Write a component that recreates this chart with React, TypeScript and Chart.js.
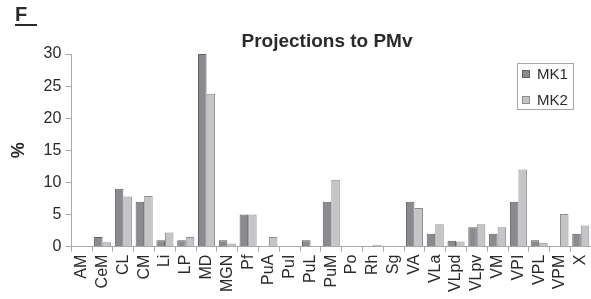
import React, { useEffect, useRef } from "react";
import { Chart, registerables } from "chart.js";

Chart.register(...registerables);

const categories = ["AM", "CeM", "CL", "CM", "Li", "LP", "MD", "MGN", "Pf", "PuA", "PuI", "PuL", "PuM", "Po", "Rh", "Sg", "VA", "VLa", "VLpd", "VLpv", "VM", "VPI", "VPL", "VPM", "X"];
const mk1 = [0, 1.5, 9.0, 7.0, 1.0, 1.0, 30.0, 1.0, 5.0, 0, 0, 1.0, 7.0, 0, 0, 0, 7.0, 2.0, 0.9, 3.0, 2.0, 7.0, 1.0, 0, 2.0];
const mk2 = [0, 0.7, 7.8, 7.9, 2.2, 1.5, 23.8, 0.5, 5.0, 1.5, 0, 0, 10.4, 0, 0.3, 0, 6.0, 3.5, 0.8, 3.5, 3.0, 12.0, 0.6, 5.1, 3.3];
const yTicks = [0, 5, 10, 15, 20, 25, 30];
const seriesNames = ["MK1", "MK2"];
const panelLetter = "F";
const titleText = "Projections to PMv";

const MK1_FILL = "#8b8b8f";
const MK1_BORDER = "#5f5f63";
const MK2_FILL = "#c5c5c8";
const MK2_BORDER = "#8d8d90";
const AXIS = "#a8a8a8";
const TEXT = "#2a2a2a";
const FONT = "Arial, 'Liberation Sans', sans-serif";
const CANVAS_W = 603;

const decorPlugin = {
  id: "decor",
  afterDraw(chart: any) {
    const ctx = chart.ctx;
    ctx.save();
    ctx.fillStyle = TEXT;
    ctx.font = `bold 20px ${FONT}`;
    ctx.textAlign = "left";
    ctx.textBaseline = "alphabetic";
    ctx.fillText(panelLetter, 15, 21);
    ctx.fillRect(15, 24, 22, 2);
    ctx.font = `bold 19px ${FONT}`;
    ctx.textAlign = "center";
    ctx.textBaseline = "middle";
    ctx.fillText(titleText, 327, 42);
    const bx = 517, by = 63, bw = 56, bh = 46;
    ctx.strokeStyle = "#a8a8a8";
    ctx.lineWidth = 1;
    ctx.strokeRect(bx + 0.5, by + 0.5, bw, bh);
    const fills = [MK1_FILL, MK2_FILL];
    const borders = [MK1_BORDER, MK2_BORDER];
    seriesNames.forEach((name, i) => {
      const cy = by + 11 + i * 26;
      ctx.fillStyle = fills[i];
      ctx.fillRect(bx + 5, cy - 4, 8, 8);
      ctx.strokeStyle = borders[i];
      ctx.strokeRect(bx + 5.5, cy - 3.5, 7, 7);
      ctx.fillStyle = TEXT;
      ctx.font = `15px ${FONT}`;
      ctx.textAlign = "left";
      ctx.textBaseline = "middle";
      ctx.fillText(name, bx + 20, cy + 1);
    });
    ctx.restore();
  },
};

export default function App() {
  const ref = useRef<HTMLCanvasElement>(null);
  useEffect(() => {
    const chart = new Chart(ref.current!, {
      type: "bar",
      data: {
        labels: categories,
        datasets: [
          {
            label: seriesNames[0],
            data: mk1,
            backgroundColor: MK1_FILL,
            borderColor: MK1_BORDER,
            borderWidth: 1,
            categoryPercentage: 0.82,
            barPercentage: 1.0,
          },
          {
            label: seriesNames[1],
            data: mk2,
            backgroundColor: MK2_FILL,
            borderColor: MK2_BORDER,
            borderWidth: 1,
            categoryPercentage: 0.82,
            barPercentage: 1.0,
          },
        ],
      },
      options: {
        animation: false,
        responsive: false,
        maintainAspectRatio: false,
        layout: { padding: { top: 54, right: 1, left: 8, bottom: 4 } },
        plugins: {
          legend: { display: false },
          title: { display: false },
          tooltip: { enabled: false },
        },
        scales: {
          x: {
            grid: { display: true, drawOnChartArea: false, offset: true, tickLength: 5, color: AXIS },
            border: { color: AXIS },
            ticks: {
              autoSkip: false,
              maxRotation: 90,
              minRotation: 90,
              color: TEXT,
              font: { size: 16, family: FONT },
              padding: 3,
            },
          },
          y: {
            min: 0,
            max: 30,
            afterBuildTicks: (axis: any) => {
              axis.ticks = yTicks.map((v) => ({ value: v }));
            },
            grid: { display: true, drawOnChartArea: false, tickLength: 6, color: AXIS },
            border: { color: AXIS },
            ticks: {
              color: TEXT,
              font: { size: 16, family: FONT },
              padding: 4,
            },
            title: {
              display: true,
              text: "%",
              color: TEXT,
              font: { size: 18, weight: "bold", family: FONT },
              padding: { top: 0, bottom: 10 },
            },
          },
        },
      },
      plugins: [decorPlugin],
    });
    return () => chart.destroy();
  }, []);
  return (
    <div style={{ position: "absolute", left: 0, top: 0, width: 591, height: 299, overflow: "hidden", background: "#fff" }}>
      <canvas ref={ref} width={CANVAS_W} height={299} style={{ width: CANVAS_W, height: 299, display: "block" }} />
    </div>
  );
}
